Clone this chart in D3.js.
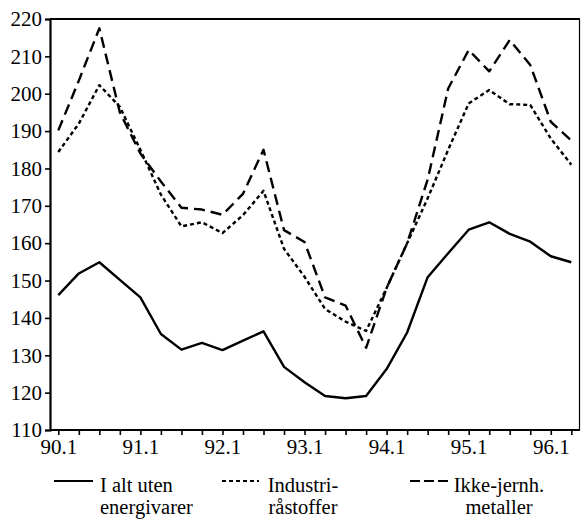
<!DOCTYPE html>
<html>
<head>
<meta charset="utf-8">
<script src="https://cdn.jsdelivr.net/npm/d3@7"></script>
<style>
  body { margin: 0; background: #fff; }
</style>
</head>
<body>
<div id="chart"></div>
<script>
// quarters 90.1 .. 96.2
var quarters = ["90.1","90.2","90.3","90.4","91.1","91.2","91.3","91.4",
  "92.1","92.2","92.3","92.4","93.1","93.2","93.3","93.4",
  "94.1","94.2","94.3","94.4","95.1","95.2","95.3","95.4","96.1","96.2"];
var tickLabels = ["90.1","91.1","92.1","93.1","94.1","95.1","96.1"];
var yTicks = [110,120,130,140,150,160,170,180,190,200,210,220];

var iAlt = [146.1, 151.9, 154.9, 150.2, 145.5, 135.7, 131.5, 133.3, 131.4, 133.9, 136.4, 126.9,
  122.8, 119.1, 118.5, 119.1, 126.3, 136.1, 150.9, 157.3, 163.6, 165.6, 162.5, 160.4, 156.5, 154.9];
var industri = [184.4, 192, 202.3, 196.5, 185, 173, 164.5, 165.6, 162.7, 167.5, 174, 158.5,
  151, 142.4, 139, 136.5, 148, 160, 172, 185, 197.4, 201, 197.2, 197, 188, 181];
var ikkeJern = [190.2, 203.5, 217.5, 195, 184, 176.5, 169.5, 169, 167.6, 173.2, 185, 163.5,
  160.3, 145.5, 143.3, 132, 148, 160, 177, 201.4, 211.7, 206, 214.4, 207.7, 192.5, 187.5];

var seriesNames = [["I alt uten", "energivarer"], ["Industri-", "råstoffer"], ["Ikke-jernh.", "metaller"]];

var FONT = '"Liberation Serif", "Times New Roman", Times, serif';
var width = 582, height = 530;
var mLeft = 50, mRight = 580, mTop = 19, mBottom = 430;

var svg = d3.select('#chart')
  .append('svg')
  .attr('width', width)
  .attr('height', height);

var x = d3.scalePoint()
  .domain(quarters)
  .range([58.3, 571.3]);

var y = d3.scaleLinear()
  .domain([110, 220])
  .range([mBottom, mTop]);

var styles = [
  { data: iAlt, dash: null },
  { data: industri, dash: "4,3" },
  { data: ikkeJern, dash: "11,6" }
];

// frame: top + right border
svg.append("line")
  .attr("x1", mLeft).attr("x2", mRight)
  .attr("y1", mTop).attr("y2", mTop)
  .attr("stroke", "#000").attr("stroke-width", 2);
svg.append("line")
  .attr("x1", mRight - 0.5).attr("x2", mRight - 0.5)
  .attr("y1", mTop).attr("y2", mBottom)
  .attr("stroke", "#000").attr("stroke-width", 1.2);

// y axis
var yAxis = svg.append("g")
  .attr("transform", "translate(" + mLeft + ",0)")
  .call(d3.axisLeft(y).tickValues(yTicks).tickSize(5).tickPadding(3).tickFormat(d3.format("d")));
yAxis.attr("font-family", FONT).attr("font-size", 21);
yAxis.select(".domain").attr("stroke-width", 2.2);
yAxis.selectAll(".tick line").attr("stroke-width", 1.6);
yAxis.selectAll("text").attr("fill", "#000");

// x axis
var xAxis = svg.append("g")
  .attr("transform", "translate(0," + mBottom + ")")
  .call(d3.axisBottom(x).tickSize(5).tickPadding(4)
    .tickFormat(function(d) { return tickLabels.indexOf(d) >= 0 ? d : ""; }));
xAxis.attr("font-family", FONT).attr("font-size", 21);
xAxis.select(".domain").attr("d", "M" + mLeft + ",0H" + mRight).attr("stroke-width", 2.2);
xAxis.selectAll(".tick line").attr("stroke-width", 1.6);
xAxis.selectAll("text").attr("fill", "#000");

// lines
var line = d3.line()
  .x(function(d, i) { return x(quarters[i]); })
  .y(function(d) { return y(d); });

styles.forEach(function(s) {
  svg.append("path")
    .datum(s.data)
    .attr("d", line)
    .attr("fill", "none")
    .attr("stroke", "#000")
    .attr("stroke-width", 2.4)
    .attr("stroke-linejoin", "round")
    .attr("stroke-dasharray", s.dash);
});

// legend
var legendItems = [
  { x1: 54, x2: 93, tx: 100, anchor: "start" },
  { x1: 222, x2: 259, tx: 303, anchor: "middle" },
  { x1: 410, x2: 448, tx: 499, anchor: "middle" }
];
var legend = svg.append("g")
  .attr("class", "legend")
  .attr("font-family", FONT)
  .attr("font-size", 20.5);
legendItems.forEach(function(it, i) {
  legend.append("line")
    .attr("x1", it.x1).attr("x2", it.x2)
    .attr("y1", 481).attr("y2", 481)
    .attr("stroke", "#000")
    .attr("stroke-width", 2)
    .attr("stroke-dasharray", i == 0 ? null : (i == 1 ? "4,3" : "10,4"));
  seriesNames[i].forEach(function(t, j) {
    legend.append("text")
      .attr("x", it.tx)
      .attr("y", 492 + j * 22)
      .attr("text-anchor", it.anchor)
      .text(t);
  });
});
</script>
</body>
</html>
